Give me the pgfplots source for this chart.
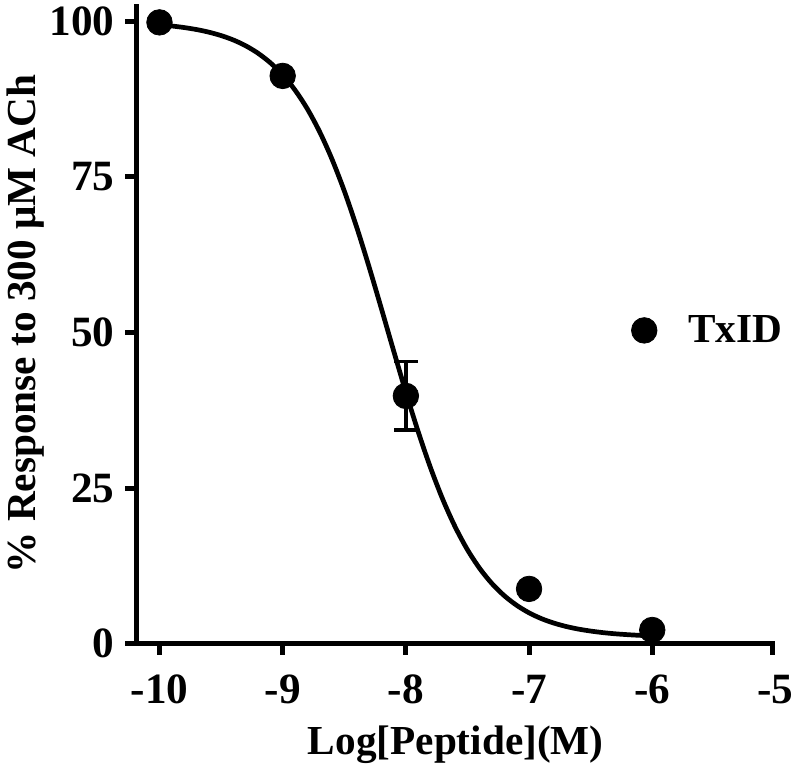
\documentclass[border=0pt]{standalone}
\usepackage{pgfplots}
\pgfplotsset{compat=1.18}
\usepackage{fontspec}
\setmainfont{Liberation Serif}
\begin{document}
\begin{tikzpicture}
\begin{axis}[
  scale only axis,
  width=325.5pt, height=325.5pt,
  xmin=-10.19, xmax=-5, ymin=0, ymax=102.7,
  axis x line*=bottom, axis y line*=left,
  axis line style={draw=none},
  xtick={-10,-9,-8,-7,-6,-5},
  ytick={0,25,50,75,100},
  tick align=outside, major tick length=5.5pt,
  major tick style={draw=none},
  /pgf/number format/assume math mode=true,
  ticklabel style={font=\fontsize{22}{24}\selectfont\bfseries},
  xticklabel style={yshift=-7pt},
  yticklabel style={xshift=-2pt},
  label style={font=\fontsize{21}{24}\selectfont\bfseries},
  xlabel={Log[Peptide](M)},
  ylabel={\% Response to 300 μM ACh},
  xlabel style={yshift=-4pt},
  ylabel style={yshift=-4pt},
  clip=false,
  legend style={draw=none, fill=none, at={(0.765,0.49)}, anchor=west,
    font=\fontsize{21}{24}\selectfont\bfseries, row sep=0pt},
  legend cell align=left,
]
\addplot[black, line width=2.4pt, smooth, forget plot] coordinates {
(-10,99.41) (-9.9,99.22) (-9.8,98.97) (-9.7,98.65) (-9.6,98.23) (-9.5,97.68)
(-9.4,96.97) (-9.3,96.04) (-9.2,94.84) (-9.1,93.31) (-9.0,91.37) (-8.9,88.93)
(-8.8,85.91) (-8.7,82.23) (-8.6,77.84) (-8.5,72.73) (-8.4,66.95) (-8.3,60.61)
(-8.2,53.91) (-8.1,47.09) (-8.0,40.39) (-7.9,34.05) (-7.8,28.27) (-7.7,23.16)
(-7.6,18.77) (-7.5,15.09) (-7.4,12.07) (-7.3,9.63) (-7.2,7.69) (-7.1,6.16)
(-7.0,4.96) (-6.9,4.03) (-6.8,3.32) (-6.7,2.77) (-6.6,2.35) (-6.5,2.03)
(-6.4,1.78) (-6.3,1.59) (-6.2,1.45) (-6.1,1.34) (-6.0,1.26)
};
\addplot[black, only marks, mark=*, mark size=6.5pt,
  error bars/.cd, y dir=both, y explicit,
  error bar style={line width=1.7pt, black},
  error mark options={rotate=90, mark size=6pt, line width=1.7pt, black}]
  coordinates {
  (-10,99.8) +- (0,0)
  (-9,91.2) +- (0,0)
  (-8,39.8) +- (0,5.5)
  (-7,8.8) +- (0,0)
  (-6,2.2) +- (0,0)
};
\addlegendentry{\hspace{14pt}TxID}
\draw[line width=2.6pt, black] (rel axis cs:0,1) -- (rel axis cs:0,0) -- (rel axis cs:1,0);
\pgfplotsinvokeforeach{-10,-9,-8,-7,-6}{\draw[line width=2.6pt, black] (axis cs:#1,0) -- ([yshift=-5.5pt]axis cs:#1,0);}
\draw[line width=2.6pt, black] ([xshift=-1.3pt]axis cs:-5,0) -- ([xshift=-1.3pt,yshift=-5.5pt]axis cs:-5,0);
\pgfplotsinvokeforeach{0,25,50,75,100}{\draw[line width=2.6pt, black] (axis cs:-10.19,#1) -- ([xshift=-5.5pt]axis cs:-10.19,#1);}
\end{axis}
\end{tikzpicture}
\end{document}
